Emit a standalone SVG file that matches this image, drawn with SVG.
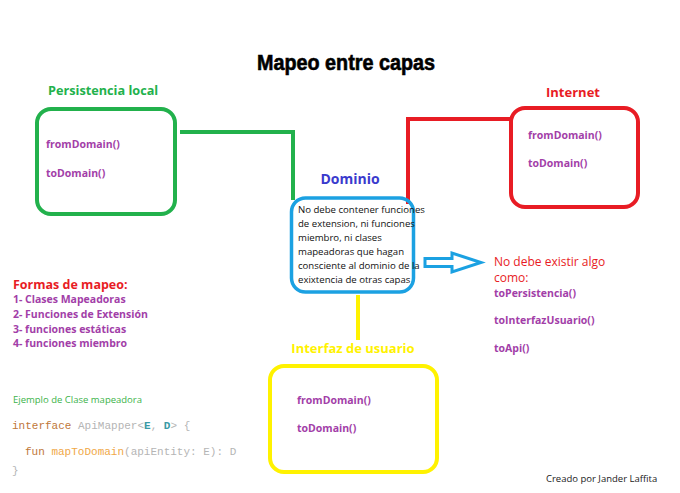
<svg xmlns="http://www.w3.org/2000/svg" width="680" height="493" viewBox="0 0 680 493">
<style>
.box{fill:none;rx:14px;}
.lbl{font-family:"Open Sans","Noto Sans",sans-serif;font-weight:bold;font-size:13px;}
.warn{font-family:"Open Sans","Noto Sans",sans-serif;font-size:12px;fill:#e81c24;}
.fn{font-family:"Open Sans","Noto Sans",sans-serif;font-weight:bold;font-size:10.5px;fill:#a23ea8;}
.txt{font-family:"Open Sans","Noto Sans",sans-serif;font-size:9.6px;fill:#111;}
.mono{font-family:"Liberation Mono",monospace;font-size:11px;fill:#b5b5b5;}
</style>
<rect width="680" height="493" fill="#fff"/>
<text x="346" y="70" text-anchor="middle" font-family="Liberation Sans,Arial,sans-serif" font-weight="bold" font-size="22" textLength="178" lengthAdjust="spacingAndGlyphs" stroke="#000" stroke-width="0.6">Mapeo entre capas</text>
<g id="connectors" fill="none" stroke-width="4">
<path d="M180 132 H293 V200" stroke="#22b14c"/>
<path d="M510 119 H408 V204" stroke="#e81c24"/>
<path d="M358 295 V340" stroke="#fff200"/>
<path d="M425 258.5 H452 V253 L481 262.5 L452 272 V266.5 H425 Z" stroke="#1ba1e2" stroke-width="3" stroke-linejoin="miter"/>
</g>
<g id="persistencia">
<text class="lbl" x="48" y="95" fill="#22b14c" style="font-size:12.7px">Persistencia local</text>
<rect class="box" x="37" y="109" width="138" height="105" stroke="#22b14c" stroke-width="4"/>
<text class="fn" x="46" y="148">fromDomain()</text>
<text class="fn" x="46" y="177">toDomain()</text>
</g>
<g id="internet">
<text class="lbl" x="573" y="97" text-anchor="middle" fill="#e81c24">Internet</text>
<rect class="box" x="511" y="108" width="127" height="99" stroke="#e81c24" stroke-width="4"/>
<text class="fn" x="528" y="139">fromDomain()</text>
<text class="fn" x="528" y="167">toDomain()</text>
</g>
<g id="dominio">
<text class="lbl" x="350" y="184" text-anchor="middle" fill="#3a3acd" style="font-size:14px">Dominio</text>
<rect class="box" x="291.5" y="198" width="122" height="94" rx="12" stroke="#1ba1e2" stroke-width="3.5"/>
<text class="txt" x="298" y="213">No debe contener funciones</text>
<text class="txt" x="298" y="227">de extension, ni funciones</text>
<text class="txt" x="298" y="241">miembro, ni clases</text>
<text class="txt" x="298" y="255">mapeadoras que hagan</text>
<text class="txt" x="298" y="269">consciente al dominio de la</text>
<text class="txt" x="298" y="283">exixtencia de otras capas</text>
</g>
<g id="interfaz">
<text class="lbl" x="353" y="353" text-anchor="middle" fill="#fff200">Interfaz de usuario</text>
<rect class="box" x="270" y="366" width="167" height="106" stroke="#fff200" stroke-width="4"/>
<text class="fn" x="297" y="404">fromDomain()</text>
<text class="fn" x="297" y="432">toDomain()</text>
</g>
<g id="no-debe">
<text class="warn" x="494" y="266">No debe existir algo</text>
<text class="warn" x="494" y="282">como:</text>
<text class="fn" x="494" y="297">toPersistencia()</text>
<text class="fn" x="494" y="324">toInterfazUsuario()</text>
<text class="fn" x="494" y="352">toApi()</text>
</g>
<g id="formas">
<text class="lbl" x="13" y="289" fill="#e81c24" style="font-size:12.5px">Formas de mapeo:</text>
<text class="fn" x="13" y="303">1- Clases Mapeadoras</text>
<text class="fn" x="13" y="318">2- Funciones de Extensión</text>
<text class="fn" x="13" y="333">3- funciones estáticas</text>
<text class="fn" x="13" y="347">4- funciones miembro</text>
</g>
<g id="ejemplo">
<text x="13" y="403" font-family="Open Sans,Noto Sans,sans-serif" font-size="9.5" fill="#3cb34a">Ejemplo de Clase mapeadora</text>
<text class="mono" x="12" y="429"><tspan fill="#c0773a">interface</tspan> ApiMapper&lt;<tspan fill="#3a9aa5" font-weight="bold">E</tspan>, <tspan fill="#3a9aa5" font-weight="bold">D</tspan>&gt; {</text>
<text class="mono" x="25" y="455"><tspan fill="#c0773a">fun</tspan> <tspan fill="#f0a848">mapToDomain</tspan>(apiEntity: E): D</text>
<text class="mono" x="12" y="474">}</text>
</g>
<text x="546" y="482" font-family="Open Sans,Noto Sans,sans-serif" font-size="9.5" fill="#222">Creado por Jander Laffita</text>
</svg>
